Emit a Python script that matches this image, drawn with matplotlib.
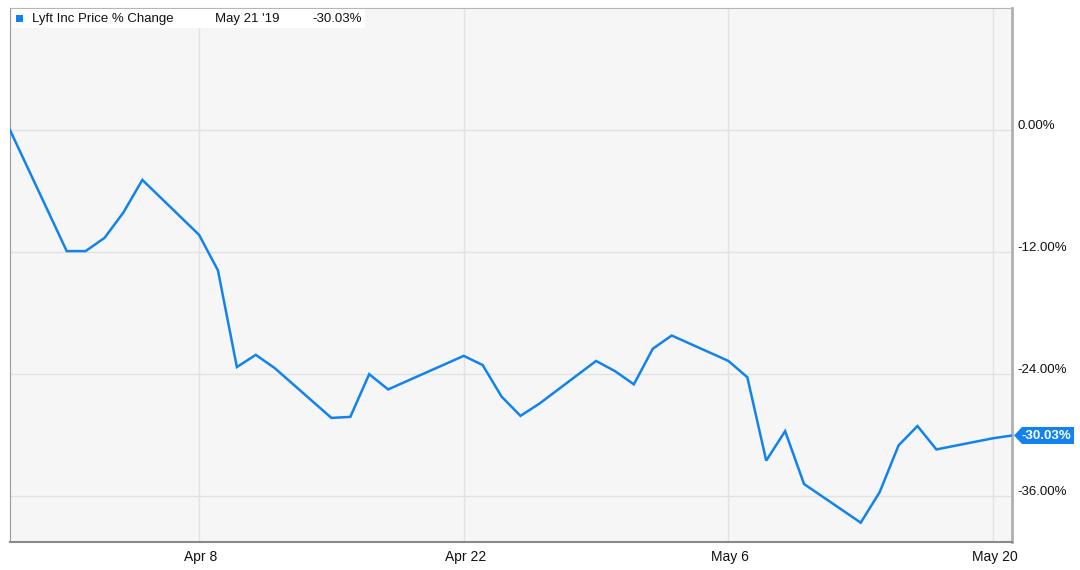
import pandas as pd
import numpy as np
import matplotlib
matplotlib.use('Agg')
import matplotlib.pyplot as plt
import matplotlib.dates as mdates
import matplotlib.transforms as mtransforms
from matplotlib.patches import Rectangle, Polygon

plt.rcParams['font.family'] = ['Liberation Sans', 'DejaVu Sans']

# Lyft Inc, % change since IPO close (trading days)
dates = ['2019-03-29', '2019-04-01', '2019-04-02', '2019-04-03', '2019-04-04', '2019-04-05',
         '2019-04-08', '2019-04-09', '2019-04-10', '2019-04-11', '2019-04-12',
         '2019-04-15', '2019-04-16', '2019-04-17', '2019-04-18',
         '2019-04-22', '2019-04-23', '2019-04-24', '2019-04-25', '2019-04-26',
         '2019-04-29', '2019-04-30', '2019-05-01', '2019-05-02', '2019-05-03',
         '2019-05-06', '2019-05-07', '2019-05-08', '2019-05-09', '2019-05-10',
         '2019-05-13', '2019-05-14', '2019-05-15', '2019-05-16', '2019-05-17',
         '2019-05-20', '2019-05-21']
pct_change = [0.0, -11.9, -11.9, -10.6, -8.1, -4.9,
              -10.3, -13.8, -23.3, -22.1, -23.4,
              -28.3, -28.2, -24.0, -25.5,
              -22.2, -23.1, -26.2, -28.1, -26.9,
              -22.7, -23.7, -25.0, -21.5, -20.2,
              -22.7, -24.3, -32.5, -29.6, -34.8,
              -38.6, -35.6, -31.0, -29.1, -31.4,
              -30.3, -30.03]
y_ticks = [0, -12, -24, -36]
x_ticks = ['2019-04-08', '2019-04-22', '2019-05-06', '2019-05-20']
series_name = 'Lyft Inc Price % Change'
last_date_label = "May 21 '19"

dt = pd.to_datetime(dates)
blue = '#1283ee'

W, H = 1080, 570
fig = plt.figure(figsize=(W / 100, H / 100), dpi=100)
ax = fig.add_axes([10 / W, 28 / H, 1002 / W, 534 / H])
ax.set_facecolor('#f6f6f6')

ax.plot(dt, pct_change, color=blue, lw=1.8, solid_joinstyle='miter', zorder=3)

ax.set_xlim(dt[0], dt[-1])
ax.set_ylim(-40.5, 12.0)

ax.set_yticks(y_ticks)
ax.set_yticklabels([f'{v:.2f}%' for v in y_ticks])
ax.yaxis.tick_right()
ax.set_xticks(pd.to_datetime(x_ticks))
ax.xaxis.set_major_formatter(mdates.DateFormatter('%b %-d'))
ax.tick_params(length=0, labelsize=9.5, colors='#111111')
ax.tick_params(axis='y', pad=4)
ax.tick_params(axis='x', pad=6)
# labels sit a little above their gridlines
off = mtransforms.ScaledTranslation(0, 6 / 100, fig.dpi_scale_trans)
for lab in ax.get_yticklabels():
    lab.set_transform(lab.get_transform() + off)
xoff = mtransforms.ScaledTranslation(2 / 100, 0, fig.dpi_scale_trans)
for lab in ax.get_xticklabels():
    lab.set_family(['Liberation Sans Narrow', 'Liberation Sans', 'DejaVu Sans'])
    lab.set_fontsize(10)
    lab.set_transform(lab.get_transform() + xoff)

ax.grid(True, color='#e2e2e2', lw=1)
ax.set_axisbelow(True)

ax.spines['left'].set_color('#9a9a9a')
ax.spines['top'].set_color('#b5b5b5')
ax.spines['right'].set_color('#b0b0b0')
ax.spines['right'].set_linewidth(2)
ax.spines['bottom'].set_color('#8a8a8a')
ax.spines['bottom'].set_linewidth(1.5)

# legend strip at the top left
px = fig.transFigure
fig.patches.append(Rectangle((12 / W, 1 - 28 / H), 353 / W, 19 / H, transform=px,
                             facecolor='white', edgecolor='none', zorder=5))
fig.patches.append(Rectangle((16 / W, 1 - 22 / H), 7 / W, 7 / H, transform=px,
                             facecolor=blue, edgecolor='none', zorder=6))
ly = 1 - 19 / H
fig.text(32 / W, ly, series_name, fontsize=9.5, va='center', color='#111111', zorder=7)
fig.text(215 / W, ly, last_date_label, fontsize=9.5, va='center', color='#111111', zorder=7)
fig.text(312 / W, ly, f'{pct_change[-1]:.2f}%', fontsize=9.5, va='center',
         color='#111111', zorder=7)

# end value tag on the right axis
yp = ax.transData.transform((mdates.date2num(dt[-1]), pct_change[-1]))[1]
tip = 1014
tag = Polygon([(tip, yp), (tip + 8, yp + 8.5), (1074, yp + 8.5), (1074, yp - 8.5),
               (tip + 8, yp - 8.5)], closed=True, transform=None,
              facecolor=blue, edgecolor='none', zorder=8)
fig.patches.append(tag)
fig.text(1046 / W, yp / H, f'{pct_change[-1]:.2f}%', color='white', fontsize=9.5,
         fontweight='bold', ha='center', va='center', zorder=9)

fig.savefig('out.png', dpi=100, facecolor='white')
